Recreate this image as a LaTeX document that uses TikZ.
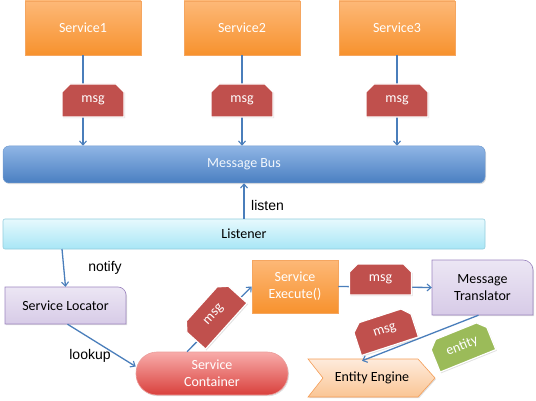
\documentclass[tikz,border=0pt]{standalone}
\usepackage{fontspec}
\setmainfont{Carlito}
\newfontfamily\arialf{Liberation Sans}
\usetikzlibrary{shapes.misc,shadows,arrows.meta,calc}
\definecolor{arr}{HTML}{4A7EBB}
\definecolor{orT}{HTML}{FDB877}
\definecolor{orB}{HTML}{F7922E}
\definecolor{orD}{HTML}{F5A660}
\definecolor{buT}{HTML}{8FB5E5}
\definecolor{buB}{HTML}{4A7FC1}
\definecolor{buD}{HTML}{6F9AD0}
\definecolor{liT}{HTML}{E6F9FD}
\definecolor{liB}{HTML}{A8E6F6}
\definecolor{liD}{HTML}{93CDDD}
\definecolor{laT}{HTML}{ECE6F4}
\definecolor{laB}{HTML}{D7CBE7}
\definecolor{laD}{HTML}{9D86C0}
\definecolor{reT}{HTML}{F8ACAA}
\definecolor{reB}{HTML}{D9403C}
\definecolor{reD}{HTML}{EB9C9A}
\definecolor{eeT}{HTML}{FEEBDC}
\definecolor{eeB}{HTML}{FAC594}
\definecolor{eeD}{HTML}{F59D56}
\definecolor{tagR}{HTML}{C0504D}
\definecolor{tagG}{HTML}{9BBB59}
\tikzset{
  x=1pt,y=1pt,
  lbl/.style={font=\fontsize{14}{17}\selectfont, align=center, inner sep=0pt},
  shad/.style={drop shadow={shadow xshift=1pt, shadow yshift=-1.2pt, opacity=0.25}},
  svc/.style={lbl, rectangle, top color=orT, bottom color=orB, draw=orD, line width=0.5pt, text=white, shad},
  tagbox/.style={lbl, chamfered rectangle, chamfered rectangle corners={north west,north east},
     chamfered rectangle xsep=4pt, chamfered rectangle ysep=4pt,
     minimum width=62pt, minimum height=33pt, draw=white, line width=1.2pt, text=white, shad},
  conn/.style={draw=arr, line width=1.3pt},
  arrow/.style={conn, -{Straight Barb[length=4pt,width=7pt,line width=1.1pt]}},
  side/.style={font=\arialf\fontsize{14}{17}\selectfont, inner sep=0pt, text=black},
}
\begin{document}
\begin{tikzpicture}
\useasboundingbox (0,0) rectangle (536,-401);

% main bars
\node[lbl, rectangle, rounded corners=6pt, top color=buT, bottom color=buB, draw=buD, line width=0.5pt,
      text=white!88!buT, minimum width=482pt, minimum height=37pt, shad] (bus) at (244,-164.5) {Message Bus};
\node[lbl, rectangle, rounded corners=2pt, top color=liT, bottom color=liB, draw=liD, line width=0.6pt,
      minimum width=482pt, minimum height=30pt] (lis) at (244,-234) {Listener};

% services
\node[svc, minimum width=116pt, minimum height=54pt] (s1) at (83,-28) {Service1};
\node[svc, minimum width=116pt, minimum height=54pt] (s2) at (242,-28) {Service2};
\node[svc, minimum width=116pt, minimum height=54pt] (s3) at (397,-28) {Service3};

% Service Locator (single rounded corner)
\shade[top color=laT, bottom color=laB, draw=laD, line width=0.6pt, shad]
  (5,-324) -- (5,-287) -- (118,-287) arc[start angle=90, end angle=0, radius=8] -- (126,-324) -- cycle;
\node[lbl, minimum width=121pt, minimum height=37pt] (loc) at (65.5,-305.5) {Service Locator};

% Message Translator
\shade[top color=laT, bottom color=laB, draw=laD, line width=0.6pt, shad]
  (432,-315) -- (432,-260) -- (523,-260) arc[start angle=90, end angle=0, radius=10] -- (533,-315) -- cycle;
\node[lbl, minimum width=101pt, minimum height=55pt] (tr) at (482.5,-287.5) {Message\\Translator};

% Service Execute
\node[svc, minimum width=86pt, minimum height=53pt] (ex) at (295,-286.5) {Service\\Execute()};

% Service Container
\node[lbl, rectangle, rounded corners=21pt, top color=reT, bottom color=reB, draw=reD, line width=0.6pt,
      text=white, minimum width=152pt, minimum height=43pt, shad] (sc) at (212,-373.5) {Service\\Container};

% Entity Engine (chevron)
\shade[top color=eeT, bottom color=eeB, draw=eeD, line width=0.6pt, shad]
  (308,-359) -- (418,-359) -- (435,-378) -- (418,-397) -- (308,-397) -- (323,-378) -- cycle;
\node[lbl, minimum width=112pt, minimum height=38pt] (ee) at (372,-378) {Entity Engine};

% connectors
\draw[arrow] (s1.south) -- (s1.south |- bus.north);
\draw[arrow] (s2.south) -- (s2.south |- bus.north);
\draw[arrow] (s3.south) -- (s3.south |- bus.north);
\draw[arrow] (lis.north) -- (bus.south);
\coordinate (nf) at (62,-249);
\draw[arrow] (nf) -- (loc.north);
\draw[arrow] ($(loc.south)+(2,0)$) -- ($(sc.west)+(0,7)$);
\draw[arrow] ($(sc.north)+(-25,0)$) -- (ex.west);
\draw[arrow] (ex.east) -- (tr.west);
\draw[arrow] ($(tr.south)+(-4,0)$) -- ($(ee.north)+(-10,-2)$);

% side labels
\node[side, anchor=west] (llisten) at (251,-205) {listen};
\node[side] (lnotify) at (105,-268) {notify};
\node[side] (llookup) at (90,-356) {lookup};

% message tags
\node[tagbox, fill=tagR] (m1) at (93,-100.5) {msg};
\node[tagbox, fill=tagR] (m2) at (242,-100.5) {msg};
\node[tagbox, fill=tagR] (m3) at (397,-100.5) {msg};
\node[tagbox, fill=tagR, rotate=48] (m4) at (214,-315) {msg};
\node[tagbox, fill=tagR, minimum height=31pt] (m5) at (380.5,-279.5) {msg};
\node[tagbox, fill=tagR, minimum width=60pt, minimum height=32pt, rotate=18] (m6) at (385,-331) {msg};
\node[tagbox, fill=tagG, minimum width=60pt, minimum height=32pt, rotate=22] (en) at (462,-346) {entity};
\end{tikzpicture}
\end{document}
